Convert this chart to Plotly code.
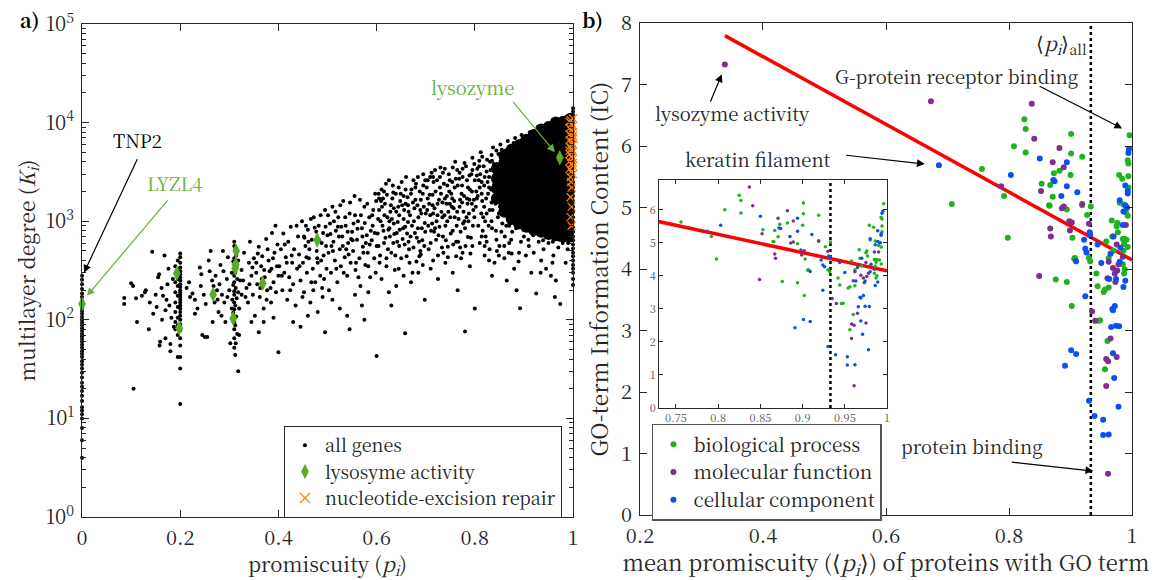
import plotly.graph_objects as go
import math

# ---------------- panel a data ----------------
col0_k = [4, 6, 8, 10, 11, 12, 13, 15, 17, 19, 21, 23, 26, 29, 32, 35, 38, 42, 45, 48, 52, 56, 60, 64,
          68, 72, 77, 82, 88, 94, 100, 107, 115, 123, 132, 142, 155, 170, 185, 205, 230, 255, 280]

col20_pts = [(0.2, 470), (0.2, 430), (0.2, 380), (0.2, 340), (0.2, 310), (0.2, 290), (0.2, 270), (0.2, 250),
             (0.2, 230), (0.2, 215), (0.2, 200), (0.2, 190), (0.2, 180), (0.2, 170), (0.2, 160), (0.2, 150),
             (0.2, 140), (0.2, 130), (0.2, 120), (0.2, 110), (0.2, 100), (0.2, 90), (0.2, 78), (0.2, 65),
             (0.2, 55), (0.2, 42), (0.2, 32), (0.2, 14), (0.195, 400), (0.195, 320), (0.195, 260), (0.195, 220),
             (0.195, 175), (0.195, 135), (0.195, 105), (0.195, 88), (0.195, 70), (0.195, 42), (0.19, 350),
             (0.19, 240), (0.19, 190), (0.19, 150), (0.19, 120), (0.19, 95), (0.19, 80)]

col31_pts = [(0.31, 620), (0.31, 560), (0.312, 520), (0.314, 450), (0.31, 420), (0.308, 390), (0.315, 360),
             (0.31, 330), (0.312, 300), (0.31, 280), (0.316, 260), (0.31, 240), (0.308, 225), (0.313, 210),
             (0.31, 195), (0.31, 180), (0.315, 165), (0.31, 150), (0.312, 140), (0.31, 128), (0.308, 118),
             (0.314, 108), (0.31, 95), (0.312, 88), (0.31, 80), (0.316, 72), (0.31, 65), (0.313, 58), (0.31, 52),
             (0.312, 44), (0.318, 30), (0.32, 130), (0.322, 250), (0.32, 70), (0.318, 400), (0.305, 300),
             (0.306, 160), (0.325, 180), (0.318, 190)]

cloud_pts = [
    (0.086, 166), (0.086, 145), (0.1, 235), (0.104, 220), (0.11, 165), (0.112, 95), (0.136, 80), (0.105, 20),
    (0.143, 490), (0.168, 450), (0.13, 200), (0.138, 150), (0.157, 290), (0.155, 270), (0.159, 60), (0.158, 55),
    (0.17, 65), (0.18, 48), (0.18, 57), (0.174, 230), (0.17, 125), (0.15, 180), (0.162, 210), (0.122, 175),
    (0.145, 115), (0.165, 175), (0.178, 140), (0.185, 260), (0.176, 330), (0.182, 105), (0.152, 135),
    (0.128, 190), (0.163, 100), (0.187, 85), (0.172, 160),
    (0.213, 210), (0.22, 170), (0.225, 185), (0.23, 160), (0.218, 240), (0.24, 340), (0.242, 220), (0.235, 130),
    (0.245, 70), (0.25, 67), (0.255, 67), (0.248, 180), (0.26, 310), (0.262, 500), (0.265, 250), (0.27, 150),
    (0.272, 280), (0.275, 200), (0.278, 120), (0.28, 230), (0.282, 360), (0.285, 180), (0.288, 310), (0.29, 150),
    (0.292, 95), (0.295, 260), (0.297, 430), (0.3, 200), (0.302, 58), (0.305, 130), (0.23, 115), (0.252, 145),
    (0.266, 95), (0.284, 110), (0.258, 400), (0.276, 160), (0.243, 290), (0.296, 170), (0.268, 220), (0.287, 500),
    (0.325, 320), (0.328, 250), (0.33, 480), (0.335, 210), (0.338, 150), (0.34, 380), (0.342, 620), (0.345, 280),
    (0.348, 180), (0.35, 420), (0.352, 110), (0.355, 300), (0.357, 230), (0.36, 550), (0.362, 170), (0.365, 350),
    (0.367, 440), (0.37, 130), (0.372, 270), (0.375, 660), (0.377, 200), (0.38, 400), (0.382, 310), (0.385, 150),
    (0.387, 760), (0.39, 240), (0.392, 480), (0.395, 190), (0.397, 350), (0.4, 280), (0.4, 47), (0.345, 95),
    (0.36, 75), (0.37, 95), (0.39, 105), (0.378, 520), (0.355, 380), (0.366, 260), (0.384, 210), (0.398, 580),
    (0.333, 170), (0.347, 340), (0.363, 210), (0.371, 320), (0.386, 330), (0.394, 900), (0.358, 470),
    (0.341, 230), (0.376, 160), (0.389, 420),
    (0.402, 350), (0.405, 520), (0.408, 200), (0.41, 750), (0.412, 300), (0.415, 430), (0.418, 160), (0.42, 620),
    (0.422, 270), (0.425, 880), (0.428, 380), (0.43, 230), (0.432, 520), (0.435, 140), (0.438, 330), (0.44, 700),
    (0.442, 460), (0.445, 250), (0.448, 1000), (0.45, 380), (0.452, 190), (0.455, 560), (0.458, 300), (0.46, 820),
    (0.462, 420), (0.465, 150), (0.468, 650), (0.47, 330), (0.472, 1100), (0.475, 240), (0.478, 500), (0.48, 380),
    (0.482, 900), (0.485, 280), (0.488, 600), (0.49, 170), (0.492, 450), (0.495, 1300), (0.498, 330), (0.5, 720),
    (0.43, 95), (0.445, 85), (0.46, 110), (0.48, 120), (0.495, 75), (0.413, 580), (0.427, 450), (0.437, 900),
    (0.453, 680), (0.467, 240), (0.477, 780), (0.487, 400), (0.497, 560), (0.407, 280), (0.417, 380), (0.443, 350),
    (0.457, 430), (0.463, 520), (0.483, 640), (0.493, 260), (0.424, 200), (0.449, 170), (0.471, 200), (0.489, 210),
    (0.502, 480), (0.505, 950), (0.507, 300), (0.51, 1400), (0.512, 620), (0.515, 400), (0.517, 800), (0.52, 240),
    (0.522, 1100), (0.525, 520), (0.527, 350), (0.53, 700), (0.532, 1600), (0.535, 430), (0.537, 900), (0.54, 280),
    (0.542, 600), (0.545, 1200), (0.547, 380), (0.55, 780), (0.552, 500), (0.555, 1800), (0.557, 320), (0.56, 650),
    (0.562, 1000), (0.565, 420), (0.567, 220), (0.57, 850), (0.572, 550), (0.575, 1400), (0.577, 360), (0.58, 720),
    (0.582, 480), (0.585, 1100), (0.587, 270), (0.59, 640), (0.592, 900), (0.595, 420), (0.597, 1900), (0.6, 560),
    (0.51, 160), (0.525, 130), (0.54, 110), (0.556, 180), (0.57, 140), (0.583, 190), (0.6, 43), (0.545, 80),
    (0.575, 100), (0.508, 560), (0.518, 330), (0.528, 880), (0.538, 520), (0.548, 660), (0.558, 380), (0.568, 1150),
    (0.578, 600), (0.588, 800), (0.598, 300), (0.513, 1000), (0.533, 300), (0.553, 950), (0.563, 270), (0.573, 480),
    (0.593, 1300), (0.523, 700), (0.543, 460), (0.583, 350), (0.503, 200),
    (0.602, 750), (0.605, 1300), (0.607, 450), (0.61, 2100), (0.612, 900), (0.615, 600), (0.617, 1500), (0.62, 350),
    (0.622, 1100), (0.625, 2600), (0.627, 700), (0.63, 480), (0.632, 1700), (0.635, 950), (0.637, 320), (0.64, 1250),
    (0.642, 620), (0.645, 2200), (0.647, 820), (0.65, 420), (0.652, 1450), (0.655, 1050), (0.657, 580), (0.66, 2800),
    (0.662, 750), (0.665, 1250), (0.667, 380), (0.67, 1900), (0.672, 900), (0.675, 540), (0.677, 1350), (0.68, 2400),
    (0.682, 680), (0.685, 1100), (0.687, 440), (0.69, 1650), (0.692, 850), (0.695, 3000), (0.697, 560), (0.7, 1200),
    (0.61, 260), (0.625, 190), (0.64, 220), (0.655, 280), (0.658, 73), (0.67, 240), (0.685, 300), (0.698, 160),
    (0.63, 140), (0.608, 1000), (0.618, 680), (0.628, 1250), (0.638, 450), (0.648, 1600), (0.658, 880), (0.668, 1150),
    (0.678, 760), (0.688, 2000), (0.698, 960), (0.613, 1700), (0.623, 520), (0.633, 2300), (0.643, 980), (0.653, 660),
    (0.663, 1750), (0.673, 300), (0.683, 1450), (0.693, 640), (0.606, 380), (0.626, 850), (0.646, 560), (0.666, 520),
    (0.686, 620), (0.616, 1150), (0.636, 740), (0.656, 1300), (0.676, 1000), (0.696, 1400),
    (0.702, 2200), (0.705, 900), (0.707, 1500), (0.71, 600), (0.712, 3100), (0.715, 1200), (0.717, 780), (0.72, 2000),
    (0.722, 1000), (0.725, 450), (0.727, 1650), (0.73, 3500), (0.732, 1250), (0.735, 700), (0.737, 2400), (0.74, 900),
    (0.742, 1500), (0.745, 550), (0.747, 3000), (0.75, 1100), (0.752, 1900), (0.755, 800), (0.757, 1350), (0.76, 4000),
    (0.762, 620), (0.765, 2300), (0.767, 1050), (0.77, 1650), (0.772, 420), (0.775, 2800), (0.777, 1250), (0.78, 850),
    (0.782, 3600), (0.785, 1500), (0.787, 1000), (0.79, 2100), (0.792, 680), (0.795, 4400), (0.797, 1300), (0.8, 2600),
    (0.71, 330), (0.725, 260), (0.74, 380), (0.755, 300), (0.765, 200), (0.78, 76), (0.79, 350), (0.8, 130),
    (0.775, 480), (0.708, 1850), (0.718, 1350), (0.728, 880), (0.738, 1150), (0.748, 2000), (0.758, 1600),
    (0.768, 2700), (0.778, 1800), (0.788, 1200), (0.798, 1650), (0.713, 950), (0.723, 2600), (0.733, 540),
    (0.743, 1800), (0.753, 1400), (0.763, 900), (0.773, 1900), (0.783, 1100), (0.793, 3000), (0.703, 1300),
    (0.716, 2500), (0.731, 1900), (0.746, 1250), (0.761, 2700), (0.776, 950), (0.786, 2200), (0.796, 900),
    (0.706, 520), (0.736, 480), (0.766, 620), (0.781, 560), (0.751, 750), (0.721, 650),
    (0.802, 1400), (0.805, 3400), (0.807, 900), (0.81, 2200), (0.812, 5000), (0.815, 1600), (0.817, 1100),
    (0.82, 2800), (0.822, 700), (0.825, 4200), (0.827, 1900), (0.83, 1300), (0.832, 3300), (0.835, 850),
    (0.837, 5600), (0.84, 2400), (0.842, 1500), (0.845, 3800), (0.847, 1100), (0.85, 2700), (0.852, 6000),
    (0.855, 1700), (0.857, 4300), (0.86, 1250), (0.862, 3000), (0.865, 2000), (0.867, 6500), (0.87, 900),
    (0.872, 3500), (0.875, 2300), (0.877, 5100), (0.88, 1500), (0.882, 7000), (0.885, 2600), (0.887, 4000),
    (0.89, 1100), (0.892, 3000), (0.895, 7500), (0.897, 1900), (0.9, 4600), (0.81, 600), (0.82, 450), (0.83, 520),
    (0.84, 380), (0.85, 560), (0.86, 420), (0.87, 600), (0.88, 330), (0.89, 480), (0.9, 700), (0.892, 131),
    (0.835, 280), (0.865, 250), (0.885, 200), (0.808, 2600), (0.818, 3600), (0.828, 900), (0.838, 1750),
    (0.848, 4800), (0.858, 2300), (0.868, 1400), (0.878, 2900), (0.888, 1300), (0.898, 3300), (0.813, 1200),
    (0.823, 1700), (0.833, 2100), (0.843, 800), (0.853, 3600), (0.863, 5200), (0.873, 1200), (0.883, 4300),
    (0.893, 1700), (0.803, 2000), (0.816, 800), (0.826, 2500), (0.846, 1900), (0.856, 950), (0.866, 2700),
    (0.876, 780), (0.886, 1800), (0.896, 2400), (0.811, 3000), (0.831, 4000), (0.851, 1400), (0.871, 2100),
    (0.891, 5800), (0.821, 1000), (0.841, 3000), (0.861, 700), (0.881, 2300), (0.899, 1000),
    (0.902, 2000), (0.905, 5500), (0.907, 1300), (0.91, 3200), (0.912, 8000), (0.915, 900), (0.917, 2600),
    (0.92, 4500), (0.922, 1500), (0.925, 6600), (0.927, 1100), (0.93, 3600), (0.932, 8800), (0.935, 2000),
    (0.937, 750), (0.94, 5000), (0.942, 1600), (0.945, 9500), (0.947, 2800), (0.95, 1200), (0.952, 6000),
    (0.955, 3500), (0.957, 800), (0.96, 10500), (0.962, 2200), (0.965, 4200), (0.967, 1400), (0.97, 7500),
    (0.972, 650), (0.975, 3000), (0.977, 11000), (0.98, 1800), (0.982, 5500), (0.985, 950), (0.987, 8500),
    (0.99, 2500), (0.91, 560), (0.92, 480), (0.93, 620), (0.94, 520), (0.95, 600), (0.96, 450), (0.97, 540),
    (0.98, 700), (0.925, 185), (0.963, 170), (0.974, 145), (0.945, 330), (0.955, 280), (0.935, 400), (0.985, 380),
    (0.915, 300), (0.99, 600), (0.965, 250)]

# extra points of the busy middle of the cloud
cloud2_pts = [
    (0.604, 1900), (0.611, 1400), (0.619, 2400), (0.624, 820), (0.631, 1050), (0.639, 1900), (0.644, 1400),
    (0.651, 2500), (0.659, 1500), (0.664, 980), (0.671, 2100), (0.679, 1650), (0.684, 2800), (0.691, 1200),
    (0.699, 2600), (0.604, 560), (0.634, 600), (0.661, 440), (0.689, 500), (0.694, 360), (0.681, 390),
    (0.704, 1700), (0.709, 2800), (0.714, 1450), (0.719, 3300), (0.724, 1150), (0.729, 2200), (0.734, 1550),
    (0.739, 3400), (0.744, 2300), (0.749, 1500), (0.754, 2500), (0.759, 1100), (0.764, 3300), (0.769, 1400),
    (0.774, 2300), (0.779, 3900), (0.784, 1700), (0.789, 2900), (0.794, 1500), (0.799, 3800), (0.711, 800),
    (0.726, 720), (0.741, 640), (0.756, 580), (0.771, 780), (0.786, 690), (0.791, 470), (0.762, 440),
    (0.804, 2900), (0.806, 1800), (0.809, 4100), (0.814, 2500), (0.819, 1400), (0.824, 3200), (0.829, 2200),
    (0.834, 4700), (0.836, 1300), (0.839, 2900), (0.844, 5200), (0.849, 3300), (0.854, 2100), (0.859, 3900),
    (0.864, 1600), (0.869, 4700), (0.874, 2700), (0.879, 6200), (0.884, 3300), (0.889, 2100), (0.894, 6600),
    (0.814, 700), (0.824, 620), (0.834, 1000), (0.844, 650), (0.854, 780), (0.864, 900), (0.874, 650),
    (0.884, 850), (0.894, 620), (0.899, 820), (0.829, 400), (0.849, 450), (0.869, 480), (0.889, 390),
    (0.904, 7000), (0.914, 7300), (0.924, 8200), (0.934, 7000), (0.944, 8400), (0.954, 9800), (0.964, 9000),
    (0.974, 10000), (0.984, 10500), (0.994, 12000), (0.909, 650), (0.919, 720), (0.939, 640), (0.949, 700),
    (0.959, 620), (0.969, 680), (0.979, 600), (0.989, 520), (0.904, 450), (0.934, 300), (0.958, 380)]

cloud3_pts = [
    (0.452, 700), (0.456, 900), (0.461, 620), (0.466, 1050), (0.474, 860), (0.479, 420), (0.486, 1150),
    (0.491, 760), (0.496, 880), (0.501, 1150), (0.506, 740), (0.511, 500), (0.516, 1250), (0.521, 880),
    (0.526, 1450), (0.531, 560), (0.536, 1100), (0.541, 780), (0.546, 1550), (0.551, 640), (0.556, 1150),
    (0.561, 840), (0.566, 1650), (0.571, 700), (0.576, 960), (0.581, 1500), (0.586, 580), (0.591, 1150),
    (0.596, 760), (0.599, 1600), (0.603, 1050), (0.609, 1600), (0.614, 800), (0.621, 1850), (0.626, 1000),
    (0.629, 1450), (0.634, 1950), (0.641, 760), (0.646, 1150), (0.649, 1900), (0.654, 850), (0.659, 2100),
    (0.664, 1450), (0.669, 700), (0.674, 1550), (0.679, 2200), (0.684, 850), (0.689, 1300), (0.694, 1900),
    (0.699, 780), (0.704, 2600), (0.709, 1150), (0.714, 1850), (0.719, 850), (0.724, 1500), (0.729, 2800),
    (0.734, 1100), (0.739, 1700), (0.744, 1000), (0.749, 2600), (0.754, 1700), (0.759, 2200), (0.764, 1250),
    (0.769, 3100), (0.774, 1550), (0.779, 1000), (0.784, 2600), (0.789, 1650), (0.794, 2000), (0.799, 1100),
    (0.804, 1700), (0.809, 3600), (0.814, 1900), (0.819, 2300), (0.824, 1200), (0.829, 2800), (0.834, 1550),
    (0.839, 3800), (0.844, 2100), (0.849, 1200), (0.854, 4200), (0.859, 1500), (0.605, 1700), (0.615, 2000),
    (0.635, 1350), (0.655, 1800), (0.675, 2600), (0.695, 2300), (0.715, 2800), (0.735, 3100), (0.755, 3500),
    (0.775, 3400), (0.795, 3300), (0.815, 4500), (0.835, 4100), (0.855, 5300), (0.62, 420), (0.645, 330),
    (0.665, 620), (0.69, 460), (0.715, 400), (0.745, 430), (0.77, 540), (0.795, 560), (0.82, 560), (0.845, 500),
    (0.86, 560), (0.875, 470)]

# densest part of the cloud (drawn with larger dots so that it reads as solid)
core_cols = [
    (0.845, [1700, 2150, 2700, 3400]),
    (0.86, [1250, 1550, 1950, 2450, 3100, 3900, 4600]),
    (0.875, [1050, 1350, 1700, 2150, 2700, 3400, 4300, 5300]),
    (0.89, [950, 1150, 1450, 1850, 2350, 2950, 3700, 4700, 5900]),
    (0.905, [880, 1100, 1400, 1750, 2200, 2800, 3500, 4400, 5500, 6700]),
    (0.92, [820, 1000, 1250, 1600, 2000, 2500, 3150, 4000, 5000, 6300, 7500]),
    (0.935, [780, 950, 1200, 1500, 1900, 2400, 3000, 3800, 4800, 6000, 7500, 8500]),
    (0.95, [740, 900, 1150, 1450, 1800, 2300, 2900, 3600, 4600, 5800, 7300, 9000]),
    (0.965, [720, 880, 1100, 1400, 1750, 2200, 2800, 3500, 4400, 5500, 7000, 8700, 10000]),
    (0.98, [700, 870, 1080, 1350, 1700, 2150, 2700, 3400, 4300, 5400, 6800, 8500, 10200]),
    (0.993, [700, 880, 1100, 1380, 1750, 2200, 2750, 3450, 4350, 5450, 6900, 8700, 10800])]

col100_k = [14000, 13000, 12000, 11200, 10500, 9800, 9000, 8200, 7600, 7000, 6400, 5800, 5300, 4800, 4300,
            3900, 3500, 3100, 2800, 2500, 2200, 2000, 1800, 1600, 1400, 1250, 1100, 980, 870, 780, 700, 640,
            580, 530, 480, 440, 400, 360, 330, 300, 260, 225]

lysosome_x = [0.0, 0.193, 0.198, 0.267, 0.308, 0.312, 0.313, 0.314, 0.368, 0.479, 0.973]
lysosome_k = [145, 297, 82, 181, 103, 333, 364, 500, 235, 645, 4400]

ner_pts = [(0.993, 10200), (0.997, 9700), (1.0, 9200), (0.993, 8800), (0.997, 8400), (1.0, 8000),
           (0.993, 7600), (0.997, 7200), (1.0, 6900), (0.993, 6600), (0.997, 6300), (1.0, 6000),
           (0.993, 5700), (0.997, 5400), (1.0, 5100), (0.993, 4800), (0.997, 4550), (1.0, 4300),
           (0.993, 4050), (0.997, 3800), (1.0, 3600), (0.993, 3400), (0.997, 3200), (1.0, 3000),
           (0.995, 2800), (0.997, 2200), (0.995, 1750), (0.997, 1400), (0.995, 1100), (0.997, 900),
           (1.0, 11000), (0.995, 10600), (1.0, 7400), (0.993, 5200), (1.0, 3900), (0.996, 2500)]

# ---------------- panel b data ----------------
bp_pts = [(0.707, 5.06), (0.756, 5.63), (0.792, 5.19), (0.798, 4.51), (0.808, 6.0), (0.825, 6.44), (0.827, 6.28),
          (0.827, 5.9), (0.853, 5.39), (0.865, 5.04), (0.867, 5.37), (0.871, 5.18), (0.873, 5.56), (0.882, 5.6),
          (0.866, 5.03), (0.894, 4.97), (0.9, 5.53), (0.901, 6.2), (0.901, 5.88), (0.903, 4.51), (0.906, 4.17),
          (0.919, 5.83), (0.919, 5.04), (0.927, 4.88), (0.933, 5.02), (0.932, 4.13), (0.876, 3.83), (0.894, 3.79),
          (0.902, 3.40), (0.907, 4.18), (0.93, 4.18), (0.942, 3.93), (0.944, 3.72), (0.948, 3.17), (0.946, 3.16),
          (0.954, 3.63), (0.956, 3.67), (0.962, 3.7), (0.96, 2.83), (0.956, 2.37), (0.996, 6.18), (0.993, 5.77),
          (0.994, 5.72), (0.979, 5.53), (0.984, 5.47), (0.994, 5.51), (0.994, 5.33), (0.991, 5.01), (0.986, 5.05),
          (0.98, 5.08), (0.99, 4.92), (0.993, 4.87), (0.976, 4.75), (0.975, 4.70), (0.967, 4.79), (0.977, 4.6),
          (0.968, 4.53), (0.985, 4.49), (0.988, 4.49), (0.991, 4.48), (0.987, 4.41), (0.986, 4.3), (0.993, 4.36),
          (0.985, 4.08), (0.988, 4.0), (0.987, 3.93), (0.958, 4.45), (0.97, 4.3), (0.962, 4.18)]

mf_pts = [(0.338, 7.33), (0.673, 6.73), (0.787, 5.35), (0.837, 6.69), (0.841, 6.12), (0.852, 5.27), (0.867, 4.66),
          (0.868, 4.53), (0.871, 5.74), (0.889, 5.66), (0.882, 5.97), (0.886, 4.99), (0.889, 5.02), (0.898, 4.78),
          (0.902, 4.76), (0.899, 4.63), (0.919, 5.06), (0.93, 4.74), (0.849, 3.89), (0.935, 3.31), (0.94, 3.16),
          (0.965, 2.87), (0.958, 2.54), (0.961, 2.5), (0.975, 2.57), (0.958, 2.1), (0.961, 0.67), (0.99, 4.72),
          (0.975, 4.4), (0.962, 4.12), (0.978, 4.08), (0.976, 3.98), (0.969, 4.02), (0.972, 3.93), (0.973, 3.79),
          (0.96, 3.85), (0.985, 4.2)]

cc_pts = [(0.686, 5.69), (0.803, 5.53), (0.85, 5.8), (0.874, 5.43), (0.872, 5.45), (0.885, 5.19), (0.894, 5.74),
          (0.894, 5.35), (0.911, 5.25), (0.926, 4.27), (0.931, 4.6), (0.909, 4.13), (0.924, 3.56), (0.932, 4.56),
          (0.922, 4.48), (0.944, 4.4), (0.924, 4.33), (0.994, 5.89), (0.989, 5.36), (0.993, 5.27), (0.993, 5.23),
          (0.98, 5.12), (0.989, 5.04), (0.986, 4.94), (0.985, 4.72), (0.97, 4.53), (0.981, 4.35), (0.98, 4.12),
          (0.963, 3.84), (0.974, 3.84), (0.989, 3.81), (0.986, 3.71), (0.972, 3.4), (0.968, 3.35), (0.969, 3.33),
          (0.966, 3.06), (0.979, 3.07), (0.974, 3.08), (0.901, 2.68), (0.909, 2.62), (0.891, 2.43), (0.969, 2.63),
          (0.971, 2.23), (0.93, 1.86), (0.978, 1.76), (0.939, 1.61), (0.953, 1.55), (0.953, 1.3), (0.962, 1.31),
          (0.995, 5.95), (0.992, 5.0), (0.965, 4.25), (0.95, 4.1)]

fit_x = [0.338, 1.0]
fit_y = [7.8, 4.15]
mean_p_all = 0.933

# ---------------- styling ----------------
FONT = "Noto Serif CJK SC, Liberation Serif, serif"
AX = "#262626"
GREEN_A = "#5aaa28"
GREEN_TXT = "#66b23a"
ORANGE = "#ff7f0e"
C_BP = "#1db31d"
C_MF = "#7e2f8e"
C_CC = "#0b50f0"


def xs(pts):
    return [p[0] for p in pts]


def ys(pts):
    return [p[1] for p in pts]


fig = go.Figure()

cloud_all = cloud_pts + cloud2_pts + cloud3_pts
all_x = [0.0] * len(col0_k) + xs(col20_pts) + xs(col31_pts) + xs(cloud_all) + [1.0] * len(col100_k)
all_k = col0_k + ys(col20_pts) + ys(col31_pts) + ys(cloud_all) + col100_k

core_x = [cx for cx, ks in core_cols for _ in ks]
core_k = [k for cx, ks in core_cols for k in ks]

fig.add_trace(go.Scatter(x=core_x, y=core_k, mode="markers", xaxis="x", yaxis="y",
                         marker=dict(color="black", size=12), showlegend=False, hoverinfo="skip"))
fig.add_trace(go.Scatter(x=all_x, y=all_k, mode="markers", xaxis="x", yaxis="y", name="all genes",
                         marker=dict(color="black", size=4), legend="legend", cliponaxis=False))
fig.add_trace(go.Scatter(x=xs(ner_pts), y=ys(ner_pts), mode="markers", xaxis="x", yaxis="y",
                         marker=dict(color=ORANGE, size=8, symbol="x-thin", line=dict(color=ORANGE, width=1.2)),
                         showlegend=False, cliponaxis=False))
fig.add_trace(go.Scatter(x=lysosome_x, y=lysosome_k, mode="markers", xaxis="x", yaxis="y",
                         name="lysosyme activity", legend="legend", cliponaxis=False,
                         marker=dict(color=GREEN_A, size=11, symbol="diamond-tall")))
fig.add_trace(go.Scatter(x=[None], y=[None], mode="markers", xaxis="x", yaxis="y",
                         name="nucleotide-excision repair", legend="legend",
                         marker=dict(color=ORANGE, size=10, symbol="x-thin", line=dict(color=ORANGE, width=1.2))))

# panel b main
fig.add_trace(go.Scatter(x=fit_x, y=fit_y, mode="lines", xaxis="x2", yaxis="y2", showlegend=False,
                         line=dict(color="#ff0000", width=3.5)))
fig.add_trace(go.Scatter(x=[mean_p_all, mean_p_all], y=[0, 8], mode="lines", xaxis="x2", yaxis="y2",
                         showlegend=False, line=dict(color="black", width=2.5, dash="dot")))
for pts, col, nm in [(bp_pts, C_BP, "biological process"), (mf_pts, C_MF, "molecular function"),
                     (cc_pts, C_CC, "cellular component")]:
    fig.add_trace(go.Scatter(x=xs(pts), y=ys(pts), mode="markers", xaxis="x2", yaxis="y2", name=nm,
                             legend="legend2", marker=dict(color=col, size=6), cliponaxis=False))

# inset
fig.add_trace(go.Scatter(x=fit_x, y=fit_y, mode="lines", xaxis="x3", yaxis="y3", showlegend=False,
                         line=dict(color="#ff0000", width=3.5)))
fig.add_trace(go.Scatter(x=[mean_p_all, mean_p_all], y=[0, 8], mode="lines", xaxis="x3", yaxis="y3",
                         showlegend=False, line=dict(color="black", width=2.5, dash="dot")))
for pts, col in [(bp_pts, C_BP), (mf_pts, C_MF), (cc_pts, C_CC)]:
    fig.add_trace(go.Scatter(x=xs(pts), y=ys(pts), mode="markers", xaxis="x3", yaxis="y3",
                             showlegend=False, marker=dict(color=col, size=3.5)))

axcommon = dict(showline=True, linecolor=AX, linewidth=1, mirror="ticks", ticks="inside", tickcolor=AX,
                ticklen=7, showgrid=False, zeroline=False, automargin=False,
                tickfont=dict(family=FONT, size=20, color=AX))

fig.update_layout(
    width=1160, height=580, autosize=False, margin=dict(l=0, r=0, t=0, b=0),
    paper_bgcolor="white", plot_bgcolor="white",
    font=dict(family=FONT, color="black"),
    xaxis=dict(axcommon, domain=[0.0707, 0.494], range=[0, 1], dtick=0.2, anchor="y", ticklabelstandoff=3,
               title=dict(text="promiscuity (<i>p<sub>i</sub></i>)", font=dict(family=FONT, size=20.5, color=AX),
                          standoff=10)),
    yaxis=dict(axcommon, type="log", domain=[0.1086, 0.9586], range=[0, 5], anchor="x", ticklabelstandoff=3,
               tickmode="array", tickvals=[1, 10, 100, 1000, 10000, 100000],
               ticktext=["10<sup>0</sup>", "10<sup>1</sup>", "10<sup>2</sup>", "10<sup>3</sup>",
                         "10<sup>4</sup>", "10<sup>5</sup>"],
               minor=dict(ticks="inside", ticklen=4, tickcolor=AX, dtick="D1"),
               title=dict(text="multilayer degree (<i>K<sub>i</sub></i>)", font=dict(family=FONT, size=21, color=AX),
                          standoff=4)),
    xaxis2=dict(axcommon, domain=[0.5517, 0.9759], range=[0.2, 1], dtick=0.2, anchor="y2", ticklabelstandoff=3,
                title=dict(text="mean promiscuity (⟨<i>p<sub>i</sub></i>⟩) of proteins with GO term",
                           font=dict(family=FONT, size=22, color=AX), standoff=10)),
    yaxis2=dict(axcommon, domain=[0.1121, 0.9598], range=[0, 8], dtick=1, anchor="x2", ticklabelstandoff=3,
                title=dict(text="GO-term Information Content (IC)", font=dict(family=FONT, size=22.5, color=AX),
                           standoff=6)),
    xaxis3=dict(axcommon, domain=[0.5681, 0.7647], range=[0.73, 1.0], dtick=0.05, tick0=0.75, anchor="y3",
                ticklen=4, tickfont=dict(family=FONT, size=11, color="#555")),
    yaxis3=dict(axcommon, domain=[0.2966, 0.6897], range=[0, 6.9], dtick=1, anchor="x3",
                ticklen=4, tickfont=dict(family=FONT, size=11, color="#555")),
    legend=dict(x=0.2448, y=0.2655, xanchor="left", yanchor="top", bgcolor="white", bordercolor=AX,
                borderwidth=1, font=dict(family=FONT, size=18, color=AX), tracegroupgap=0),
    legend2=dict(x=0.562, y=0.269, xanchor="left", yanchor="top", bgcolor="white", bordercolor="#555",
                 borderwidth=1.5, font=dict(family=FONT, size=19, color=AX), tracegroupgap=0),
)

ann = []
ann.append(dict(text="<b>a)</b>", x=0.0155, y=0.995, xref="paper", yref="paper", yanchor="top", showarrow=False,
                font=dict(family=FONT, size=20, color="black")))
ann.append(dict(text="<b>b)</b>", x=0.511, y=0.995, xref="paper", yref="paper", yanchor="top", showarrow=False,
                font=dict(family=FONT, size=20, color="black")))


def arrow(x, y, ax, ay, color, xref, yref):
    return dict(x=x, y=y, ax=ax, ay=ay, xref=xref, yref=yref, text="", showarrow=True, arrowhead=2,
                arrowsize=1.3, arrowwidth=1.2, arrowcolor=color)


def label(txt, x, y, color, xref, yref, size=18.5):
    return dict(text=txt, x=x, y=y, xref=xref, yref=yref, showarrow=False,
                font=dict(family=FONT, size=size, color=color))


ann.append(arrow(0.004, math.log10(300), 54, -115, "black", "x", "y"))
ann.append(label("TNP2", 0.114, 3.82, "black", "x", "y"))
ann.append(arrow(0.01, math.log10(175), 82, -97, GREEN_TXT, "x", "y"))
ann.append(label("LYZL4", 0.189, 3.39, GREEN_TXT, "x", "y"))
ann.append(arrow(0.963, math.log10(5000), -43, -52, GREEN_TXT, "x", "y"))
ann.append(label("lysozyme", 0.796, 4.36, GREEN_TXT, "x", "y"))
ann.append(arrow(0.333, 7.17, -12, 29, "black", "x2", "y2"))
ann.append(label("lysozyme activity", 0.35, 6.54, AX, "x2", "y2"))
ann.append(arrow(0.663, 5.71, -80, -9, "black", "x2", "y2"))
ann.append(label("keratin filament", 0.392, 5.79, AX, "x2", "y2"))
ann.append(arrow(0.984, 6.29, -84, -43, "black", "x2", "y2"))
ann.append(label("G-protein receptor binding", 0.7154, 7.15, AX, "x2", "y2"))
ann.append(arrow(0.937, 0.715, -83, -9, "black", "x2", "y2"))
ann.append(label("protein binding", 0.74, 1.12, AX, "x2", "y2"))
ann.append(label("⟨<i>p<sub>i</sub></i>⟩<sub>all</sub>", 0.886, 7.67, AX, "x2", "y2", size=20))

fig.update_layout(annotations=ann)

fig.write_html("out.html")
